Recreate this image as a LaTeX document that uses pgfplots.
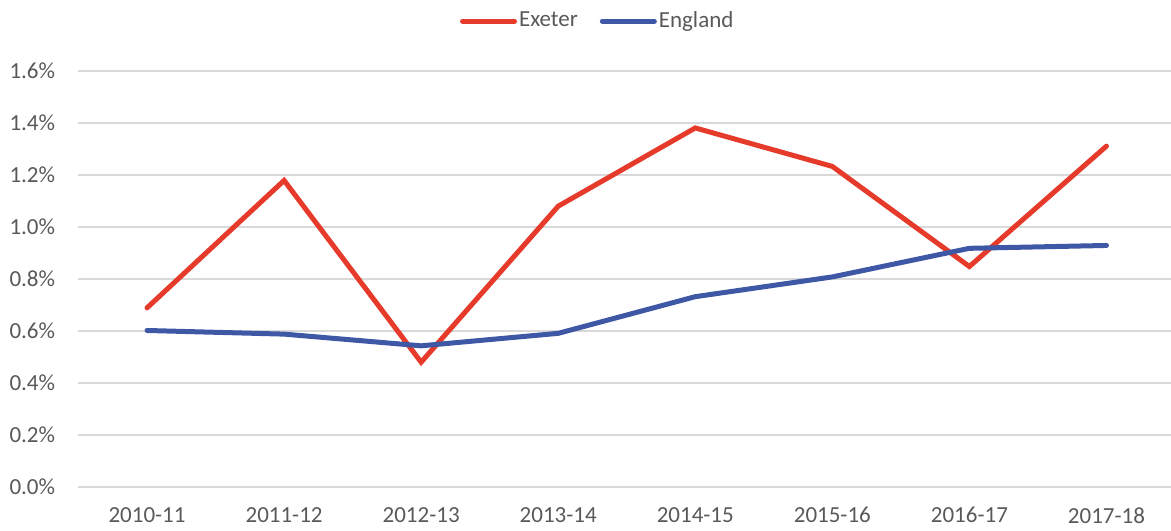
\documentclass[border=0pt]{standalone}
\usepackage{pgfplots}
\pgfplotsset{compat=1.18}
\usepackage{fontspec}
\setmainfont{Carlito}
\definecolor{exred}{HTML}{E63A2A}
\definecolor{enblue}{HTML}{3F58A6}
\definecolor{gridgray}{HTML}{D9D9D9}
\definecolor{txtgray}{HTML}{595959}
\begin{document}
\begin{tikzpicture}
\useasboundingbox (-39.25pt,-21.5pt) rectangle (546.25pt,243.5pt);
\begin{axis}[
  at={(0,0)}, anchor=south west,
  scale only axis,
  width=548.25pt, height=208pt,
  xmin=-0.5, xmax=7.5,
  ymin=0, ymax=1.6,
  xtick={0,...,7},
  xticklabels={2010-11,2011-12,2012-13,2013-14,2014-15,2015-16,2016-17,2017-18},
  ytick={0,0.2,...,1.6},
  yticklabel={\pgfmathprintnumber[fixed,fixed zerofill,precision=1]{\tick}\%},
  /pgf/number format/assume math mode=true,
  axis line style={draw=none},
  major tick length=0pt,
  ymajorgrids,
  grid style={gridgray, line width=0.75pt},
  tick label style={font=\fontsize{11.5pt}{13pt}\selectfont, text=txtgray},
  yticklabel style={anchor=east, inner sep=0pt, xshift=-11.5pt},
  xticklabel style={anchor=north, inner sep=0pt, yshift=-10pt},
  legend style={at={(0.5,1)}, anchor=south, xshift=-14.5pt, yshift=19pt, draw=none, fill=none,
    legend columns=2, font=\fontsize{11.5pt}{13pt}\selectfont, text=txtgray,
    /tikz/every even column/.append style={column sep=10pt},
    inner sep=0pt, nodes={inner sep=1pt}},
  legend image code/.code={\draw[#1, line cap=round] (0pt,0pt) -- (26pt,0pt);},
  clip=false,
]
\addplot[exred, line width=2.5pt, line cap=round, line join=miter] coordinates {
  (0,0.689) (1,1.179) (2,0.480) (3,1.080) (4,1.381) (5,1.233) (6,0.848) (7,1.311)};
\addlegendentry{Exeter}
\addplot[enblue, line width=2.5pt, line cap=round, line join=round] coordinates {
  (0,0.602) (1,0.588) (2,0.543) (3,0.591) (4,0.732) (5,0.808) (6,0.918) (7,0.929)};
\addlegendentry{England}
\end{axis}
\end{tikzpicture}
\end{document}
